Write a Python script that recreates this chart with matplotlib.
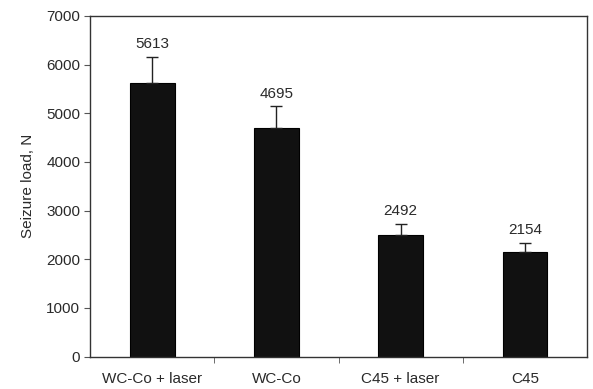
import matplotlib
matplotlib.use("Agg")
import matplotlib.pyplot as plt
import numpy as np

categories = ["WC-Co + laser", "WC-Co", "C45 + laser", "C45"]
values = [5613, 4695, 2492, 2154]
errors = [550, 450, 235, 185]
yticks = [0, 1000, 2000, 3000, 4000, 5000, 6000, 7000]

plt.rcParams['font.family'] = ['Liberation Sans', 'DejaVu Sans']

fig = plt.figure(figsize=(5.93, 3.89), dpi=100)
ax = fig.add_axes([0.1518, 0.0835, 0.8381, 0.8754])

x = np.arange(len(categories))
ax.bar(x, values, width=0.36, color='#111111', edgecolor='#000000', linewidth=0.8, zorder=2)
ax.errorbar(x, values, yerr=[np.zeros(len(errors)), errors], fmt='none',
            ecolor='#222222', elinewidth=1.0, capsize=4.5, capthick=1.0, zorder=3)

for xi, v, e in zip(x, values, errors):
    ax.annotate(str(v), (xi, v + e), xytext=(0, 4), textcoords='offset points',
                ha='center', va='bottom', fontsize=11, color='#2a2a2a')

ax.set_xlim(-0.5, len(categories) - 0.5)
ax.set_ylim(0, 7000)
ax.set_yticks(yticks)
ax.set_yticklabels([str(t) for t in yticks], fontsize=11, color='#2a2a2a')
ax.set_xticks(x)
ax.set_xticklabels(categories, fontsize=11, color='#2a2a2a')
ax.set_xticks(np.arange(0.5, len(categories) - 0.5, 1), minor=True)
ax.tick_params(axis='x', which='major', length=0, pad=11)
ax.tick_params(axis='x', which='minor', length=4, direction='out', color='#555555')
ax.tick_params(axis='y', length=4, direction='out', color='#555555', pad=3)
ax.set_ylabel("Seizure load, N", fontsize=11, color='#2a2a2a', labelpad=8)

for s in ax.spines.values():
    s.set_color('#333333')
    s.set_linewidth(1.0)

fig.savefig("out.png", dpi=100)
